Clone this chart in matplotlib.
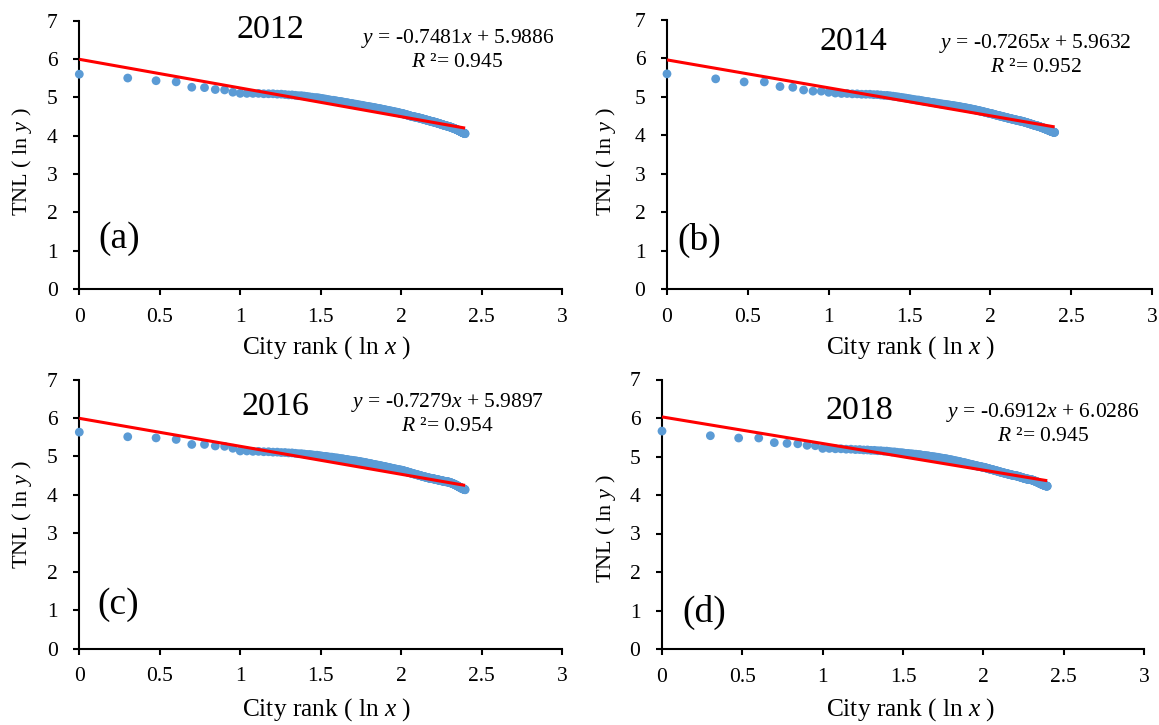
import numpy as np
import matplotlib
matplotlib.use("Agg")
import matplotlib.pyplot as plt

plt.rcParams['font.family'] = ['Liberation Serif', 'DejaVu Serif']
plt.rcParams['mathtext.fontset'] = 'custom'
plt.rcParams['mathtext.rm'] = 'Liberation Serif'
plt.rcParams['mathtext.it'] = 'Liberation Serif:italic'

# ---------------- data ----------------
years = ["2012", "2014", "2016", "2018"]
panel_tags = ["(a)", "(b)", "(c)", "(d)"]
slopes = [-0.7481, -0.7265, -0.7279, -0.6912]
intercepts = [5.9886, 5.9632, 5.9897, 6.0286]
r2_values = ["0.945", "0.952", "0.954", "0.945"]
eq_texts = ["-0.7481", "-0.7265", "-0.7279", "-0.6912"]
int_texts = ["5.9886", "5.9632", "5.9897", "6.0286"]

# TNL (ln y) of cities ordered by rank 1..N
tnl_2012 = [
    5.60, 5.50, 5.43, 5.40, 5.26, 5.25, 5.20, 5.19, 5.13, 5.10,
    5.10, 5.10, 5.10, 5.09, 5.09, 5.09, 5.08, 5.08, 5.07, 5.06,
    5.06, 5.05, 5.04, 5.04, 5.03, 5.02, 5.01, 5.00, 4.99, 4.99,
    4.98, 4.97, 4.96, 4.95, 4.94, 4.93, 4.92, 4.92, 4.91, 4.90,
    4.89, 4.89, 4.88, 4.87, 4.86, 4.86, 4.85, 4.84, 4.84, 4.83,
    4.82, 4.82, 4.81, 4.80, 4.80, 4.79, 4.79, 4.78, 4.77, 4.77,
    4.76, 4.76, 4.75, 4.75, 4.74, 4.74, 4.73, 4.73, 4.72, 4.72,
    4.71, 4.71, 4.70, 4.70, 4.69, 4.69, 4.68, 4.68, 4.67, 4.67,
    4.66, 4.66, 4.65, 4.65, 4.64, 4.64, 4.64, 4.63, 4.63, 4.62,
    4.62, 4.61, 4.61, 4.61, 4.60, 4.60, 4.59, 4.59, 4.58, 4.58,
    4.58, 4.57, 4.57, 4.56, 4.56, 4.55, 4.55, 4.54, 4.54, 4.53,
    4.53, 4.52, 4.52, 4.51, 4.51, 4.50, 4.50, 4.50, 4.49, 4.49,
    4.49, 4.48, 4.48, 4.48, 4.47, 4.47, 4.47, 4.46, 4.46, 4.46,
    4.45, 4.45, 4.45, 4.44, 4.44, 4.43, 4.43, 4.43, 4.42, 4.42,
    4.42, 4.41, 4.41, 4.40, 4.40, 4.40, 4.39, 4.39, 4.39, 4.38,
    4.38, 4.38, 4.37, 4.37, 4.37, 4.36, 4.36, 4.36, 4.36, 4.35,
    4.35, 4.35, 4.34, 4.34, 4.34, 4.33, 4.33, 4.33, 4.32, 4.32,
    4.32, 4.31, 4.31, 4.31, 4.30, 4.30, 4.30, 4.29, 4.29, 4.29,
    4.28, 4.28, 4.28, 4.27, 4.27, 4.27, 4.26, 4.26, 4.26, 4.26,
    4.25, 4.25, 4.25, 4.25, 4.24, 4.24, 4.24, 4.24, 4.23, 4.23,
    4.23, 4.22, 4.22, 4.22, 4.21, 4.21, 4.21, 4.20, 4.20, 4.20,
    4.19, 4.19, 4.19, 4.18, 4.18, 4.18, 4.17, 4.17, 4.17, 4.16,
    4.16, 4.16, 4.15, 4.15, 4.14, 4.14, 4.14, 4.13, 4.13, 4.12,
    4.12, 4.12, 4.11, 4.11, 4.10, 4.10, 4.09, 4.09, 4.09, 4.08,
    4.08, 4.08, 4.07, 4.07, 4.07, 4.06, 4.06, 4.06, 4.05, 4.05,
]

tnl_2014 = [
    5.60, 5.47, 5.39, 5.39, 5.27, 5.25, 5.18, 5.15, 5.15, 5.12,
    5.10, 5.09, 5.09, 5.08, 5.08, 5.07, 5.07, 5.07, 5.06, 5.06,
    5.05, 5.04, 5.04, 5.03, 5.02, 5.01, 5.00, 4.99, 4.98, 4.97,
    4.96, 4.95, 4.94, 4.93, 4.92, 4.92, 4.91, 4.90, 4.89, 4.88,
    4.88, 4.87, 4.86, 4.86, 4.85, 4.84, 4.84, 4.83, 4.82, 4.82,
    4.81, 4.81, 4.80, 4.80, 4.79, 4.79, 4.78, 4.78, 4.77, 4.77,
    4.76, 4.76, 4.75, 4.75, 4.74, 4.74, 4.73, 4.73, 4.72, 4.72,
    4.71, 4.71, 4.70, 4.70, 4.69, 4.69, 4.68, 4.68, 4.67, 4.67,
    4.66, 4.66, 4.65, 4.65, 4.64, 4.64, 4.63, 4.63, 4.62, 4.62,
    4.61, 4.61, 4.60, 4.60, 4.59, 4.59, 4.58, 4.58, 4.57, 4.57,
    4.57, 4.56, 4.56, 4.55, 4.55, 4.54, 4.54, 4.53, 4.53, 4.52,
    4.52, 4.52, 4.51, 4.51, 4.50, 4.50, 4.50, 4.49, 4.49, 4.48,
    4.48, 4.48, 4.47, 4.47, 4.47, 4.46, 4.46, 4.45, 4.45, 4.45,
    4.44, 4.44, 4.44, 4.43, 4.43, 4.43, 4.42, 4.42, 4.42, 4.41,
    4.41, 4.41, 4.40, 4.40, 4.40, 4.40, 4.39, 4.39, 4.39, 4.38,
    4.38, 4.38, 4.38, 4.37, 4.37, 4.37, 4.37, 4.36, 4.36, 4.36,
    4.35, 4.35, 4.35, 4.34, 4.34, 4.34, 4.33, 4.33, 4.33, 4.32,
    4.32, 4.32, 4.31, 4.31, 4.31, 4.30, 4.30, 4.30, 4.29, 4.29,
    4.29, 4.28, 4.28, 4.28, 4.27, 4.27, 4.27, 4.26, 4.26, 4.26,
    4.26, 4.25, 4.25, 4.25, 4.25, 4.24, 4.24, 4.24, 4.24, 4.23,
    4.23, 4.23, 4.22, 4.22, 4.22, 4.21, 4.21, 4.21, 4.20, 4.20,
    4.20, 4.19, 4.19, 4.19, 4.18, 4.18, 4.18, 4.17, 4.17, 4.17,
    4.16, 4.16, 4.16, 4.15, 4.15, 4.15, 4.14, 4.14, 4.14, 4.13,
    4.13, 4.13, 4.12, 4.12, 4.12, 4.11, 4.11, 4.11, 4.10, 4.10,
    4.10, 4.10, 4.09, 4.09, 4.09, 4.09, 4.08, 4.08, 4.08, 4.08,
]

tnl_2016 = [
    5.63, 5.51, 5.48, 5.44, 5.31, 5.31, 5.27, 5.26, 5.21, 5.14,
    5.14, 5.13, 5.13, 5.12, 5.12, 5.11, 5.11, 5.10, 5.10, 5.09,
    5.09, 5.08, 5.07, 5.07, 5.06, 5.05, 5.05, 5.04, 5.03, 5.03,
    5.02, 5.01, 5.00, 5.00, 4.99, 4.98, 4.98, 4.97, 4.96, 4.96,
    4.95, 4.94, 4.94, 4.93, 4.92, 4.92, 4.91, 4.90, 4.90, 4.89,
    4.89, 4.88, 4.88, 4.87, 4.87, 4.86, 4.85, 4.85, 4.84, 4.84,
    4.83, 4.82, 4.82, 4.81, 4.81, 4.80, 4.79, 4.79, 4.78, 4.78,
    4.77, 4.77, 4.76, 4.76, 4.75, 4.75, 4.74, 4.74, 4.73, 4.73,
    4.72, 4.72, 4.71, 4.71, 4.70, 4.70, 4.69, 4.69, 4.68, 4.68,
    4.67, 4.67, 4.67, 4.66, 4.66, 4.65, 4.65, 4.65, 4.64, 4.64,
    4.64, 4.63, 4.63, 4.62, 4.62, 4.61, 4.61, 4.60, 4.60, 4.59,
    4.59, 4.58, 4.58, 4.57, 4.57, 4.56, 4.56, 4.55, 4.55, 4.54,
    4.54, 4.54, 4.53, 4.53, 4.52, 4.52, 4.52, 4.51, 4.51, 4.50,
    4.50, 4.50, 4.49, 4.49, 4.48, 4.48, 4.48, 4.47, 4.47, 4.47,
    4.46, 4.46, 4.46, 4.45, 4.45, 4.45, 4.44, 4.44, 4.44, 4.43,
    4.43, 4.43, 4.43, 4.42, 4.42, 4.42, 4.42, 4.42, 4.41, 4.41,
    4.41, 4.41, 4.40, 4.40, 4.40, 4.40, 4.39, 4.39, 4.39, 4.39,
    4.38, 4.38, 4.38, 4.38, 4.37, 4.37, 4.37, 4.37, 4.36, 4.36,
    4.36, 4.36, 4.36, 4.35, 4.35, 4.35, 4.35, 4.35, 4.34, 4.34,
    4.34, 4.34, 4.34, 4.34, 4.33, 4.33, 4.33, 4.33, 4.33, 4.32,
    4.32, 4.32, 4.31, 4.31, 4.31, 4.30, 4.30, 4.30, 4.29, 4.29,
    4.29, 4.28, 4.28, 4.27, 4.27, 4.27, 4.26, 4.26, 4.25, 4.25,
    4.25, 4.24, 4.24, 4.23, 4.23, 4.22, 4.22, 4.21, 4.21, 4.20,
    4.20, 4.20, 4.19, 4.19, 4.18, 4.18, 4.17, 4.17, 4.17, 4.16,
    4.16, 4.16, 4.15, 4.15, 4.15, 4.14, 4.14, 4.14, 4.14, 4.13,
]

tnl_2018 = [
    5.66, 5.54, 5.48, 5.48, 5.36, 5.34, 5.33, 5.29, 5.28, 5.21,
    5.21, 5.20, 5.20, 5.19, 5.19, 5.18, 5.18, 5.17, 5.17, 5.16,
    5.16, 5.15, 5.15, 5.14, 5.14, 5.13, 5.12, 5.12, 5.11, 5.10,
    5.10, 5.09, 5.08, 5.08, 5.07, 5.07, 5.06, 5.06, 5.05, 5.05,
    5.04, 5.03, 5.03, 5.02, 5.02, 5.01, 5.00, 5.00, 4.99, 4.99,
    4.98, 4.98, 4.97, 4.96, 4.96, 4.95, 4.95, 4.94, 4.94, 4.93,
    4.92, 4.92, 4.91, 4.91, 4.90, 4.89, 4.89, 4.88, 4.88, 4.87,
    4.87, 4.86, 4.85, 4.85, 4.84, 4.84, 4.83, 4.83, 4.82, 4.81,
    4.81, 4.80, 4.80, 4.79, 4.79, 4.78, 4.78, 4.77, 4.77, 4.76,
    4.76, 4.75, 4.75, 4.74, 4.74, 4.74, 4.73, 4.73, 4.72, 4.72,
    4.72, 4.71, 4.71, 4.70, 4.70, 4.69, 4.69, 4.68, 4.68, 4.67,
    4.67, 4.66, 4.66, 4.66, 4.65, 4.65, 4.64, 4.64, 4.63, 4.63,
    4.63, 4.62, 4.62, 4.61, 4.61, 4.60, 4.60, 4.60, 4.59, 4.59,
    4.58, 4.58, 4.58, 4.57, 4.57, 4.57, 4.56, 4.56, 4.56, 4.55,
    4.55, 4.55, 4.54, 4.54, 4.54, 4.53, 4.53, 4.53, 4.52, 4.52,
    4.52, 4.52, 4.51, 4.51, 4.51, 4.51, 4.51, 4.50, 4.50, 4.50,
    4.50, 4.49, 4.49, 4.49, 4.48, 4.48, 4.48, 4.47, 4.47, 4.47,
    4.46, 4.46, 4.46, 4.45, 4.45, 4.45, 4.44, 4.44, 4.44, 4.43,
    4.43, 4.43, 4.43, 4.42, 4.42, 4.42, 4.42, 4.41, 4.41, 4.41,
    4.41, 4.41, 4.40, 4.40, 4.40, 4.40, 4.40, 4.40, 4.40, 4.39,
    4.39, 4.39, 4.38, 4.38, 4.38, 4.37, 4.37, 4.37, 4.36, 4.36,
    4.36, 4.35, 4.35, 4.35, 4.34, 4.34, 4.33, 4.33, 4.33, 4.32,
    4.32, 4.31, 4.31, 4.31, 4.30, 4.30, 4.29, 4.29, 4.29, 4.28,
    4.28, 4.28, 4.27, 4.27, 4.27, 4.26, 4.26, 4.26, 4.25, 4.25,
    4.25, 4.25, 4.24, 4.24, 4.24, 4.24, 4.23, 4.23, 4.23, 4.23,
]
series = [tnl_2012, tnl_2014, tnl_2016, tnl_2018]

x_ticks = [0, 0.5, 1, 1.5, 2, 2.5, 3]
x_ticklabels = ["0", "0.5", "1", "1.5", "2", "2.5", "3"]
y_ticks = [0, 1, 2, 3, 4, 5, 6, 7]

# ---------------- layout (pixels) ----------------
W, H = 1159, 725
boxes = [  # left, right, top, bottom in pixels
    (79.3, 562.0, 20.5, 289.0),
    (667.0, 1152.0, 20.0, 289.3),
    (79.3, 562.0, 379.5, 648.5),
    (662.0, 1144.0, 379.5, 649.0),
]
# text positions in data coords
year_pos = [(1.19, 6.76), (1.15, 6.43), (1.22, 6.29), (1.23, 6.20)]
eq_pos = [(2.35, 6.53), (2.28, 6.39), (2.29, 6.40), (2.37, 6.15)]
r2_pos = [(2.35, 5.90), (2.28, 5.76), (2.29, 5.77), (2.37, 5.51)]
tag_pos = [(0.25, 1.30), (0.20, 1.28), (0.24, 1.13), (0.26, 0.94)]
xlabel_px = [(327, 348), (911, 348), (327, 710), (911, 710)]
ylabel_px = [(22, 162), (606, 162), (22, 515), (606, 529)]

blue = "#5B9BD5"
red = "#FF0000"

fig = plt.figure(figsize=(W / 100, H / 100), dpi=100)

for i in range(4):
    l, r, t, b = boxes[i]
    ax = fig.add_axes([l / W, 1 - b / H, (r - l) / W, (b - t) / H])
    y = np.array(series[i])
    rank = np.arange(1, len(y) + 1)
    x = np.log10(rank)

    ax.scatter(x, y, s=40, color=blue, edgecolors='none', zorder=3, clip_on=False)
    xl = np.array([x.min(), x.max()])
    ax.plot(xl, slopes[i] * xl + intercepts[i], color=red, lw=2.2, zorder=4,
            solid_capstyle='butt', clip_on=False)

    ax.set_xlim(0, 3)
    ax.set_ylim(0, 7)
    ax.set_xticks(x_ticks)
    ax.set_xticklabels(x_ticklabels)
    ax.set_yticks(y_ticks)
    for s in ['top', 'right']:
        ax.spines[s].set_visible(False)
    for s in ['left', 'bottom']:
        ax.spines[s].set_linewidth(1.5)
        ax.spines[s].set_color('black')
    ax.tick_params(axis='both', direction='out', length=4.5, width=1.5,
                   labelsize=15.5, colors='black')
    ax.tick_params(axis='x', pad=9)
    ax.tick_params(axis='y', pad=11)
    ax.patch.set_visible(False)

    ax.text(*year_pos[i], years[i], fontsize=24.5, ha='center', va='center')
    ax.text(*eq_pos[i], r"$\it{y}$ = " + eq_texts[i] + r"$\it{x}$ + " + int_texts[i],
            fontsize=15.5, ha='center', va='center')
    ax.text(*r2_pos[i], r"$\it{R}$ ²= " + r2_values[i], fontsize=15.5,
            ha='center', va='center')
    ax.text(*tag_pos[i], panel_tags[i], fontsize=27, ha='center', va='center')

    fig.text(xlabel_px[i][0] / W, 1 - xlabel_px[i][1] / H,
             r"City rank ( ln $\it{x}$ )", fontsize=18.3, ha='center', va='center')
    fig.text(ylabel_px[i][0] / W, 1 - ylabel_px[i][1] / H,
             r"TNL ( ln $\it{y}$ )", fontsize=16, ha='center', va='center',
             rotation=90)

fig.savefig("out.png", dpi=100)
